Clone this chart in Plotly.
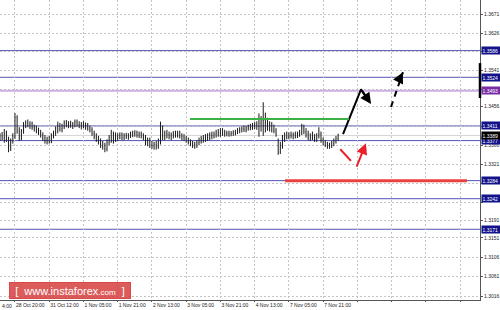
import plotly.graph_objects as go

# ---------------- data ----------------
bar_start = 9  # bar index of first visible H1 bar (index 0 = 28 Oct 04:00)

opens = [1.3385,1.3388,1.3383,1.3395,1.3380,1.3362,1.3376,1.3388,1.3430,1.3400,
         1.3385,1.3398,1.3414,1.3418,1.3412,1.3416,1.3408,1.3404,1.3400,1.3396,
         1.3390,1.3382,1.3376,1.3380,1.3375,1.3390,1.3394,1.3404,1.3410,1.3404,
         1.3411,1.3418,1.3414,1.3416,1.3412,1.3415,1.3420,1.3414,1.3412,1.3416,
         1.3410,1.3413,1.3406,1.3402,1.3394,1.3386,1.3380,1.3374,1.3368,1.3365,
         1.3358,1.3372,1.3384,1.3378,1.3390,1.3382,1.3388,1.3390,1.3384,1.3389,
         1.3386,1.3390,1.3392,1.3394,1.3396,1.3390,1.3393,1.3388,1.3385,1.3372,
         1.3378,1.3366,1.3364,1.3368,1.3362,1.3376,1.3404,1.3386,1.3394,1.3390,
         1.3388,1.3391,1.3393,1.3390,1.3395,1.3388,1.3386,1.3382,1.3378,1.3374,
         1.3370,1.3366,1.3368,1.3372,1.3378,1.3382,1.3380,1.3386,1.3384,1.3390,
         1.3388,1.3392,1.3396,1.3392,1.3398,1.3395,1.3393,1.3394,1.3392,1.3395,
         1.3396,1.3398,1.3401,1.3403,1.3405,1.3402,1.3406,1.3409,1.3407,1.3412,
         1.3414,1.3410,1.3418,1.3424,1.3412,1.3420,1.3406,1.3414,1.3404,1.3400,
         1.3376,1.3350,1.3366,1.3382,1.3390,1.3386,1.3390,1.3388,1.3391,1.3389,
         1.3393,1.3396,1.3406,1.3398,1.3392,1.3384,1.3388,1.3384,1.3380,1.3388,
         1.3392,1.3378,1.3372,1.3368,1.3364,1.3366,1.3370,1.3376,1.3382]
highs = [1.3394,1.3397,1.3404,1.3400,1.3386,1.3382,1.3394,1.3441,1.3436,1.3408,
         1.3404,1.3420,1.3424,1.3426,1.3422,1.3421,1.3414,1.3412,1.3407,1.3402,
         1.3396,1.3390,1.3386,1.3388,1.3394,1.3400,1.3410,1.3421,1.3418,1.3416,
         1.3424,1.3425,1.3422,1.3423,1.3420,1.3426,1.3426,1.3422,1.3420,1.3422,
         1.3419,1.3418,1.3412,1.3408,1.3400,1.3394,1.3388,1.3382,1.3376,1.3372,
         1.3380,1.3390,1.3402,1.3398,1.3396,1.3394,1.3396,1.3396,1.3394,1.3395,
         1.3394,1.3398,1.3400,1.3401,1.3400,1.3398,1.3398,1.3394,1.3390,1.3384,
         1.3384,1.3376,1.3374,1.3376,1.3382,1.3421,1.3412,1.3400,1.3402,1.3398,
         1.3396,1.3399,1.3400,1.3400,1.3400,1.3394,1.3392,1.3388,1.3384,1.3380,
         1.3376,1.3374,1.3378,1.3384,1.3388,1.3390,1.3392,1.3394,1.3396,1.3398,
         1.3398,1.3402,1.3404,1.3406,1.3406,1.3402,1.3400,1.3400,1.3399,1.3401,
         1.3402,1.3406,1.3408,1.3410,1.3412,1.3411,1.3414,1.3416,1.3418,1.3420,
         1.3422,1.3440,1.3434,1.3466,1.3442,1.3430,1.3422,1.3420,1.3414,1.3406,
         1.3382,1.3374,1.3390,1.3396,1.3398,1.3396,1.3398,1.3396,1.3398,1.3398,
         1.3402,1.3416,1.3414,1.3406,1.3400,1.3394,1.3398,1.3392,1.3394,1.3408,
         1.3398,1.3384,1.3378,1.3374,1.3372,1.3376,1.3382,1.3388,1.3393]
lows = [1.3376,1.3378,1.3372,1.3374,1.3350,1.3353,1.3370,1.3381,1.3393,1.3376,
        1.3378,1.3393,1.3406,1.3408,1.3404,1.3402,1.3398,1.3394,1.3390,1.3384,
        1.3376,1.3370,1.3368,1.3370,1.3371,1.3382,1.3388,1.3394,1.3398,1.3396,
        1.3404,1.3408,1.3406,1.3407,1.3404,1.3408,1.3409,1.3406,1.3403,1.3406,
        1.3402,1.3400,1.3396,1.3388,1.3380,1.3374,1.3368,1.3360,1.3356,1.3350,
        1.3352,1.3366,1.3372,1.3370,1.3374,1.3376,1.3380,1.3378,1.3378,1.3381,
        1.3379,1.3383,1.3385,1.3386,1.3384,1.3383,1.3382,1.3378,1.3366,1.3364,
        1.3360,1.3358,1.3356,1.3356,1.3358,1.3368,1.3378,1.3378,1.3382,1.3380,
        1.3378,1.3382,1.3384,1.3384,1.3382,1.3378,1.3376,1.3372,1.3368,1.3364,
        1.3360,1.3358,1.3360,1.3366,1.3370,1.3372,1.3374,1.3376,1.3378,1.3380,
        1.3382,1.3384,1.3386,1.3386,1.3388,1.3386,1.3387,1.3386,1.3387,1.3388,
        1.3389,1.3392,1.3394,1.3396,1.3397,1.3396,1.3400,1.3401,1.3402,1.3404,
        1.3402,1.3386,1.3398,1.3388,1.3396,1.3400,1.3398,1.3396,1.3394,1.3386,
        1.3344,1.3346,1.3358,1.3374,1.3380,1.3380,1.3382,1.3380,1.3382,1.3383,
        1.3386,1.3390,1.3392,1.3384,1.3378,1.3376,1.3378,1.3374,1.3374,1.3382,
        1.3372,1.3366,1.3362,1.3358,1.3358,1.3360,1.3364,1.3370,1.3376]
closes = [1.3388,1.3383,1.3395,1.3380,1.3362,1.3376,1.3388,1.3430,1.3400,1.3385,
          1.3398,1.3414,1.3418,1.3412,1.3416,1.3408,1.3404,1.3400,1.3396,1.3390,
          1.3382,1.3376,1.3380,1.3375,1.3390,1.3394,1.3404,1.3410,1.3404,1.3411,
          1.3418,1.3414,1.3416,1.3412,1.3415,1.3420,1.3414,1.3412,1.3416,1.3410,
          1.3413,1.3406,1.3402,1.3394,1.3386,1.3380,1.3374,1.3368,1.3365,1.3358,
          1.3372,1.3384,1.3378,1.3390,1.3382,1.3388,1.3390,1.3384,1.3389,1.3386,
          1.3390,1.3392,1.3394,1.3396,1.3390,1.3393,1.3388,1.3385,1.3372,1.3378,
          1.3366,1.3364,1.3368,1.3362,1.3376,1.3404,1.3386,1.3394,1.3390,1.3388,
          1.3391,1.3393,1.3390,1.3395,1.3388,1.3386,1.3382,1.3378,1.3374,1.3370,
          1.3366,1.3368,1.3372,1.3378,1.3382,1.3380,1.3386,1.3384,1.3390,1.3388,
          1.3392,1.3396,1.3392,1.3398,1.3395,1.3393,1.3394,1.3392,1.3395,1.3396,
          1.3398,1.3401,1.3403,1.3405,1.3402,1.3406,1.3409,1.3407,1.3412,1.3414,
          1.3410,1.3418,1.3424,1.3412,1.3420,1.3406,1.3414,1.3404,1.3400,1.3392,
          1.3350,1.3366,1.3382,1.3390,1.3386,1.3390,1.3388,1.3391,1.3389,1.3393,
          1.3396,1.3406,1.3398,1.3392,1.3384,1.3388,1.3384,1.3380,1.3388,1.3392,
          1.3378,1.3372,1.3368,1.3364,1.3366,1.3370,1.3376,1.3382,1.3389]

x_tick_bars = [16, 32, 48, 64, 80, 96, 112, 128, 144, 160, 176, 192, 208, 224]
x_tick_labels = ["28 Oct 20:00", "31 Oct 12:00", "1 Nov 05:00", "1 Nov 21:00",
                 "2 Nov 13:00", "3 Nov 05:00", "3 Nov 21:00", "4 Nov 13:00",
                 "7 Nov 05:00", "7 Nov 21:00", "", "", "", ""]
first_label_visible = "4:00"  # the part of "28 Oct 04:00" shown at the left edge

y_ticks = [1.3016, 1.3061, 1.3106, 1.3151, 1.3191, 1.3234, 1.3278, 1.3321,
           1.3366, 1.3409, 1.3456, 1.3496, 1.3541, 1.3583, 1.3626, 1.3671]
# scale labels that sit under a level box in the reference
y_ticks_hidden = [1.3234, 1.3278, 1.3409, 1.3496, 1.3583]

blue_levels = [1.3586, 1.3524, 1.3411, 1.3377, 1.3284, 1.3242, 1.3171]
purple_level = 1.3493
bid_level = 1.3389
green_level = 1.3427
green_span = [97.8, 172.1]
red_level = 1.3284
red_span = [142.2, 227.2]

# forecast arrows (bar index, price)
black_path_x = [169.3, 177.7, 182.4]
black_path_y = [1.3392, 1.3496, 1.3462]
black_dash_x = [191.7, 197.3]
black_dash_y = [1.3455, 1.3536]
red_seg_x = [168.0, 173.0]
red_seg_y = [1.3357, 1.3330]
red_arrow_x = [175.4, 180.0]
red_arrow_y = [1.3313, 1.3371]

# ---------------- figure ----------------
bars = list(range(bar_start, bar_start + len(closes)))
x_range = [9.0, 233.3]
y_range = [1.30067, 1.37036]
FONT = "Liberation Sans"

fig = go.Figure()
fig.add_trace(go.Ohlc(
    x=bars, open=opens, high=highs, low=lows, close=closes,
    increasing=dict(line=dict(color="#1a1a1a", width=1)),
    decreasing=dict(line=dict(color="#1a1a1a", width=1)),
    tickwidth=0.12, showlegend=False, hoverinfo="skip"))

shapes = []
for lv in blue_levels:
    shapes.append(dict(type="line", xref="paper", x0=0, x1=1, yref="y", y0=lv, y1=lv,
                       line=dict(color="#5454b4", width=1), layer="below"))
shapes.append(dict(type="line", xref="paper", x0=0, x1=1, yref="y", y0=purple_level,
                   y1=purple_level, line=dict(color="#cdaee6", width=2), layer="below"))
shapes.append(dict(type="line", xref="paper", x0=0, x1=1, yref="y", y0=bid_level,
                   y1=bid_level, line=dict(color="#d4d4d4", width=1), layer="below"))
shapes.append(dict(type="line", xref="x", x0=green_span[0], x1=green_span[1], yref="y",
                   y0=green_level, y1=green_level, line=dict(color="#3cb043", width=2)))
shapes.append(dict(type="line", xref="x", x0=red_span[0], x1=red_span[1], yref="y",
                   y0=red_level, y1=red_level, line=dict(color="#e8413f", width=3)))
# thick marker on the price scale
shapes.append(dict(type="line", xref="paper", x0=1, x1=1, yref="y", y0=1.3476, y1=1.3557,
                   line=dict(color="#000000", width=2.5)))
fig.update_layout(shapes=shapes)

# forecast lines
fig.add_trace(go.Scatter(x=black_path_x[:-1] + [black_path_x[-1] - 1.0],
                         y=black_path_y[:-1] + [black_path_y[-1] + 0.00065],
                         mode="lines", line=dict(color="#000000", width=2),
                         showlegend=False, hoverinfo="skip"))
fig.add_trace(go.Scatter(x=black_dash_x, y=black_dash_y, mode="lines",
                         line=dict(color="#000000", width=2, dash="6px,5px"),
                         showlegend=False, hoverinfo="skip"))
fig.add_trace(go.Scatter(x=red_seg_x, y=red_seg_y, mode="lines",
                         line=dict(color="#e8202a", width=2),
                         showlegend=False, hoverinfo="skip"))

annotations = []
def arrow(xs, ys, color):
    annotations.append(dict(x=xs[-1], y=ys[-1], ax=xs[-2], ay=ys[-2], xref="x", yref="y",
                            axref="x", ayref="y", showarrow=True, arrowhead=2,
                            arrowsize=1.1, arrowwidth=2, arrowcolor=color, text=""))
arrow(black_path_x, black_path_y, "#000000")
annotations.append(dict(x=black_dash_x[1], y=black_dash_y[1],
                        ax=black_dash_x[1] - 1.2, ay=black_dash_y[1] - 0.0012,
                        xref="x", yref="y", axref="x", ayref="y", showarrow=True,
                        arrowhead=2, arrowsize=1.1, arrowwidth=2, arrowcolor="#000000", text=""))
arrow(red_arrow_x, red_arrow_y, "#e8202a")

# price labels on the scale
def price_box(lv, bg):
    annotations.append(dict(xref="paper", x=1, xanchor="left", xshift=1, yref="y", y=lv,
                            yanchor="middle", text=f"{lv:.4f}", showarrow=False,
                            font=dict(family=FONT, size=5, color="#ffffff"),
                            bgcolor=bg, borderpad=0.6, width=19, align="left"))
for lv in blue_levels:
    price_box(lv, "#12128a")
price_box(purple_level, "#7a2ea6")
price_box(bid_level, "#000000")

# visible tail of the first time label at the left edge
annotations.append(dict(xref="paper", x=0, yref="paper", y=0,
                        yanchor="top", yshift=-1, xanchor="left", xshift=0,
                        text=first_label_visible,
                        showarrow=False, font=dict(family=FONT, size=5, color="#222222")))

# watermark
annotations.append(dict(xref="paper", x=9 / 480, xanchor="left", yref="paper",
                        y=1 / 300, yanchor="bottom",
                        text="[  www.instaforex<span style='font-size:8px'>.com</span>  ]",
                        showarrow=False, width=120, height=15,
                        font=dict(family=FONT, size=11, color="#ffffff"),
                        bgcolor="rgba(214,62,62,0.85)", bordercolor="rgba(214,62,62,0.9)",
                        borderwidth=1, borderpad=0))
fig.update_layout(annotations=annotations)

fig.update_layout(
    width=500, height=310, margin=dict(l=0, r=20, t=0, b=10, autoexpand=False),
    paper_bgcolor="#ffffff", plot_bgcolor="#ffffff",
    xaxis=dict(range=x_range, tickmode="array", tickvals=x_tick_bars, ticktext=x_tick_labels,
               ticklabelposition="outside right", tickangle=0, automargin=False,
               showgrid=True, gridcolor="#c4c4c4",
               griddash="2px,2px", gridwidth=1, zeroline=False, showline=True,
               linecolor="#555555", linewidth=1, ticks="outside", ticklen=1,
               tickcolor="#555555", rangeslider=dict(visible=False),
               tickfont=dict(family=FONT, size=5, color="#222222")),
    yaxis=dict(range=y_range, side="right", tickmode="array", tickvals=y_ticks,
               ticktext=["" if v in y_ticks_hidden else f"{v:.4f}" for v in y_ticks],
               automargin=False, showgrid=True, gridcolor="#c4c4c4",
               griddash="2px,2px", gridwidth=1, zeroline=False, showline=True,
               linecolor="#555555", linewidth=1, ticks="outside", ticklen=2,
               tickcolor="#555555",
               tickfont=dict(family=FONT, size=5, color="#222222")),
)

fig.write_html("out.html")
